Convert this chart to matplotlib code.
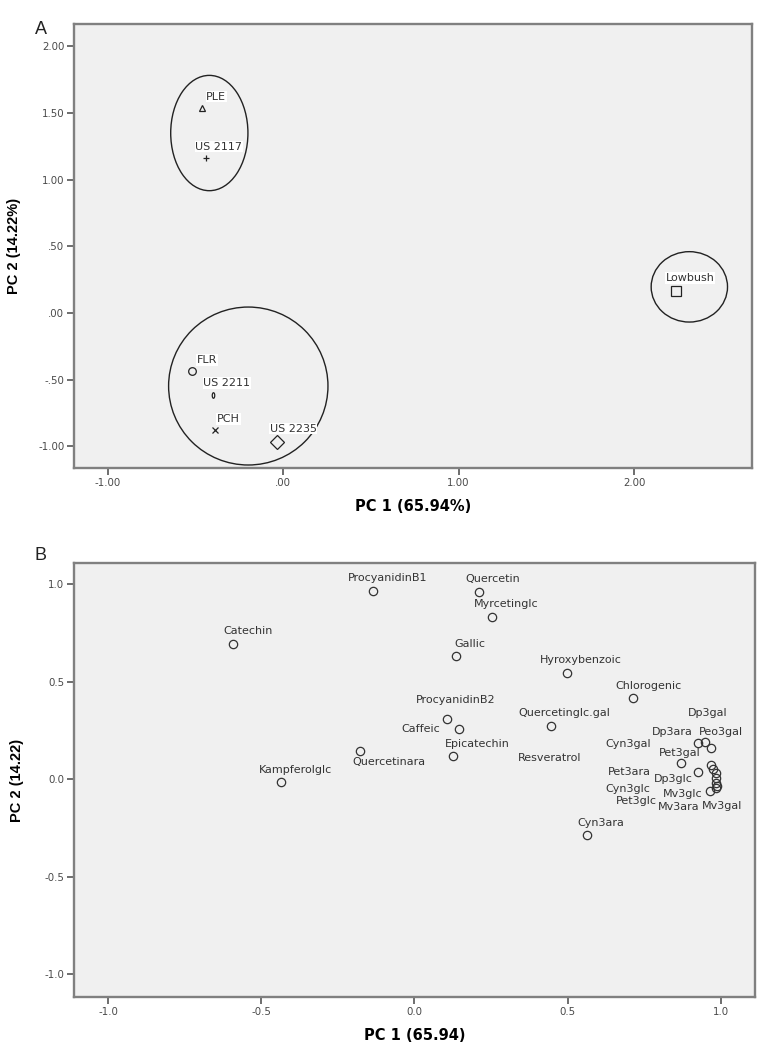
import matplotlib
matplotlib.use("Agg")
import matplotlib.pyplot as plt
from matplotlib.patches import Ellipse
from matplotlib.ticker import FuncFormatter, FixedLocator
import numpy as np

plt.rcParams['font.family'] = ['DejaVu Sans']

# ---------------- Panel A data (cultivar scores) ----------------
a_names = ["PLE", "US 2117", "FLR", "US 2211", "PCH", "US 2235", "Lowbush"]
a_pc1 = [-0.46, -0.44, -0.52, -0.40, -0.386, -0.034, 2.24]
a_pc2 = [1.54, 1.165, -0.435, -0.615, -0.878, -0.965, 0.165]

# cluster ellipses: centre x, centre y, width, height
ell_cx = [-0.42, -0.198, 2.315]
ell_cy = [1.35, -0.548, 0.196]
ell_w = [0.44, 0.908, 0.435]
ell_h = [0.865, 1.185, 0.528]

a_xticks = [-1.0, 0.0, 1.0, 2.0]
a_yticks = [-1.0, -0.5, 0.0, 0.5, 1.0, 1.5, 2.0]

# ---------------- Panel B data (loadings) ----------------
b_names = ["ProcyanidinB1", "Quercetin", "Myrcetinglc", "Catechin", "Gallic",
           "Hyroxybenzoic", "Chlorogenic", "ProcyanidinB2", "Caffeic",
           "Quercetinglc.gal", "Epicatechin", "Quercetinara", "Kampferolglc",
           "Cyn3ara", "Dp3gal", "Dp3ara", "Peo3gal", "Cyn3gal", "Resveratrol",
           "Pet3gal", "Pet3ara", "Dp3glc", "Cyn3glc", "Mv3glc", "Pet3glc",
           "Mv3ara", "Mv3gal"]
b_pc1 = [-0.134, 0.211, 0.255, -0.593, 0.135,
         0.497, 0.714, 0.105, 0.146,
         0.445, 0.127, -0.178, -0.435,
         0.563, 0.948, 0.926, 0.970, 0.970, 0.975,
         0.872, 0.986, 0.926, 0.986, 0.964, 0.986,
         0.986, 0.989]
b_pc2 = [0.964, 0.960, 0.829, 0.692, 0.629,
         0.542, 0.414, 0.308, 0.258,
         0.272, 0.120, 0.144, -0.014,
         -0.287, 0.191, 0.183, 0.157, 0.072, 0.050,
         0.081, 0.032, 0.037, 0.004, -0.062, -0.022,
         -0.048, -0.036]

b_ticks = [-1.0, -0.5, 0.0, 0.5, 1.0]

# ---------------- layout / style ----------------
BG = "#f0f0f0"
FRAME = "#808080"
TICKC = "#4a4a4a"
PX2PT = 0.72  # 1 px at 100 dpi
LBL_FS = 8.0
YLAB_FONT = ['Liberation Sans', 'DejaVu Sans']

a_markers = ["^", "+", "o", "0", "x", "D", "s"]
a_msize = [4.5, 5, 5.5, 4, 4.5, 7, 6.5]
# label offsets (pixels: dx right, dy down)
a_off = {"PLE": (14, -11), "US 2117": (13, -11), "FLR": (15, -11),
         "US 2211": (14, -12), "PCH": (13, -11), "US 2235": (16, -13),
         "Lowbush": (14, -13)}

b_off = {"ProcyanidinB1": (14, -13), "Quercetin": (14, -13), "Myrcetinglc": (14, -13),
         "Catechin": (15, -13), "Gallic": (14, -12), "Hyroxybenzoic": (14, -13),
         "Chlorogenic": (15, -12), "ProcyanidinB2": (9, -19), "Caffeic": (-38, 0),
         "Quercetinglc.gal": (14, -13), "Epicatechin": (24, -12),
         "Quercetinara": (29, 11), "Kampferolglc": (14, -12), "Cyn3ara": (14, -12),
         "Dp3gal": (3, -29), "Dp3ara": (-26, -11), "Peo3gal": (9, -16),
         "Cyn3gal": (-83, -21), "Resveratrol": (-163, -11), "Pet3gal": (-2, -10),
         "Pet3ara": (-87, -1), "Dp3glc": (-25, 7), "Cyn3glc": (-89, 11),
         "Mv3glc": (-27, 3), "Pet3glc": (-80, 18), "Mv3ara": (-38, 19),
         "Mv3gal": (5, 20)}

fig = plt.figure(figsize=(7.58, 10.5), dpi=100)
axA = fig.add_axes([74/758, 1-468/1050, (752-74)/758, (468-24)/1050])
axB = fig.add_axes([74/758, 1-997/1050, (755-74)/758, (997-563)/1050])


def style_axes(ax):
    ax.set_facecolor(BG)
    for s in ax.spines.values():
        s.set_color(FRAME)
        s.set_linewidth(1.7)
    ax.tick_params(direction="out", length=5, width=1.2, color="#555555",
                   labelcolor=TICKC, labelsize=7.4, pad=2)


def fmt_a(v, pos):
    s = f"{v:.2f}"
    if s.startswith("0."):
        return s[1:]
    if s.startswith("-0."):
        return "-" + s[2:]
    return s


# ---- Panel A ----
style_axes(axA)
axA.set_xlim(-1.191, 2.672)
axA.set_ylim(-1.163, 2.168)
axA.xaxis.set_major_locator(FixedLocator(a_xticks))
axA.yaxis.set_major_locator(FixedLocator(a_yticks))
axA.xaxis.set_major_formatter(FuncFormatter(fmt_a))
axA.yaxis.set_major_formatter(FuncFormatter(fmt_a))

oval = [(np.cos(t) * 0.45, np.sin(t)) for t in np.linspace(0, 2*np.pi, 30)]
for name, x, y, m, ms in zip(a_names, a_pc1, a_pc2, a_markers, a_msize):
    mk = oval if m == "0" else m
    axA.plot([x], [y], linestyle="none", marker=mk, markersize=ms,
             markerfacecolor="none", markeredgecolor="#222222", markeredgewidth=0.9)
    dx, dy = a_off[name]
    axA.annotate(name, (x, y), xytext=(dx*PX2PT, -dy*PX2PT), textcoords="offset points",
                 ha="center", va="center", fontsize=LBL_FS, color="#333333",
                 bbox=dict(facecolor="white", edgecolor="none", pad=0.6))

for cx, cy, w, h in zip(ell_cx, ell_cy, ell_w, ell_h):
    axA.add_patch(Ellipse((cx, cy), w, h, fill=False, edgecolor="#222222", linewidth=1.0))

axA.set_xlabel("PC 1 (65.94%)", fontsize=10.5, fontweight="bold", labelpad=8)
axA.set_ylabel("PC 2 (14.22%)", fontsize=10.5, fontweight="bold", family=YLAB_FONT)
axA.yaxis.set_label_coords((21-74)/678, 0.5)
fig.text(35/758, 1-29/1050, "A", fontsize=13, ha="left", va="center", color="#222222",
         family=['Liberation Sans'])

# ---- Panel B ----
style_axes(axB)
axB.set_xlim(-1.111, 1.112)
axB.set_ylim(-1.118, 1.108)
axB.xaxis.set_major_locator(FixedLocator(b_ticks))
axB.yaxis.set_major_locator(FixedLocator(b_ticks))
axB.xaxis.set_major_formatter(FuncFormatter(lambda v, p: f"{v:.1f}"))
axB.yaxis.set_major_formatter(FuncFormatter(lambda v, p: f"{v:.1f}"))

axB.plot(b_pc1, b_pc2, linestyle="none", marker="o", markersize=6,
         markerfacecolor="none", markeredgecolor="#333333", markeredgewidth=0.9)
for name, x, y in zip(b_names, b_pc1, b_pc2):
    dx, dy = b_off[name]
    axB.annotate(name, (x, y), xytext=(dx*PX2PT, -dy*PX2PT), textcoords="offset points",
                 ha="center", va="center", fontsize=LBL_FS, color="#333333")

axB.set_xlabel("PC 1 (65.94)", fontsize=10.5, fontweight="bold", labelpad=8)
axB.set_ylabel("PC 2 (14.22)", fontsize=10.5, fontweight="bold", family=YLAB_FONT)
axB.yaxis.set_label_coords((24-74)/681, 0.5)
fig.text(35/758, 1-556/1050, "B", fontsize=13, ha="left", va="center", color="#222222",
         family=['Liberation Sans'])

fig.savefig("out.png", dpi=100, facecolor="white")
